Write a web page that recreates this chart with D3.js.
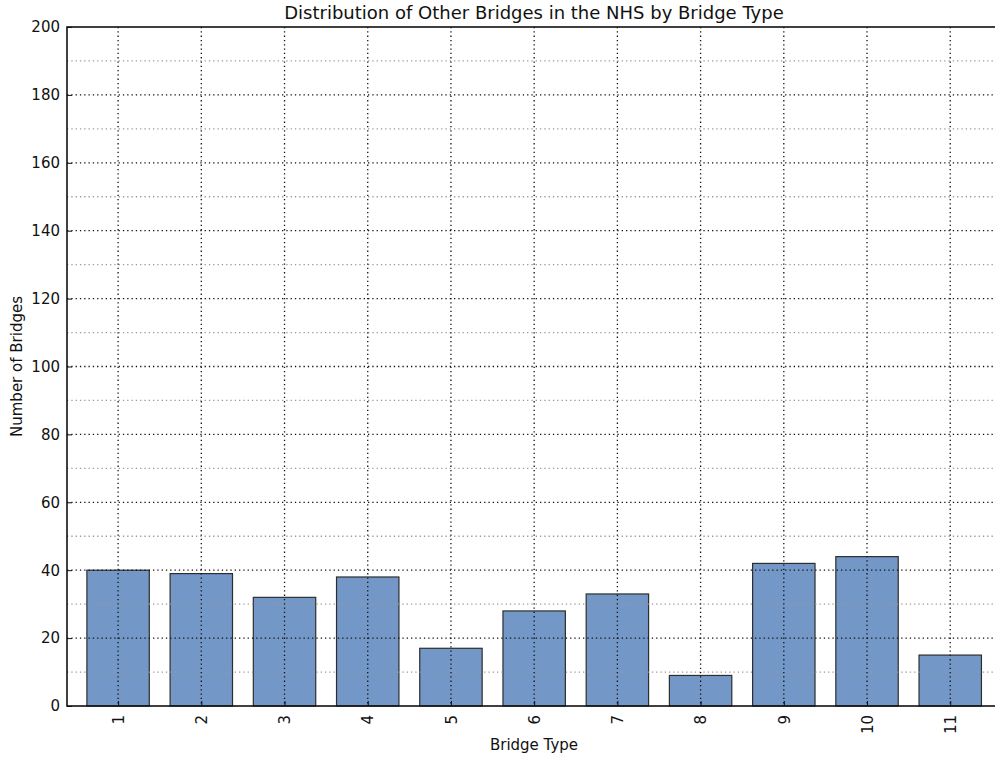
<!DOCTYPE html>
<html><head><meta charset="utf-8">
<script src="https://cdn.jsdelivr.net/npm/d3@7"></script>
<style>body{margin:0;background:#fff}svg{display:block;font-family:"DejaVu Sans",sans-serif}</style>
</head><body><svg id="c" width="995" height="757"></svg>
<script>
const categories = [1,2,3,4,5,6,7,8,9,10,11];
const values = [40,39,32,38,17,28,33,9,42,44,15];
const yMajorTicks = [0,20,40,60,80,100,120,140,160,180,200];
const yMinorTicks = [10,30,50,70,90,110,130,150,170,190];
const title = "Distribution of Other Bridges in the NHS by Bridge Type";
const xLabel = "Bridge Type";
const yLabel = "Number of Bridges";

const svg = d3.select("#c");
const L = 67, R = 1001, T = 27, B = 706;
const x = d3.scaleLinear().domain([0.386, 11.61]).range([L, R]);
const y = d3.scaleLinear().domain([0, 200]).range([B, T]);
const step = x(2) - x(1);
const bw = step * 0.75;

// bars
svg.append("g").selectAll("rect").data(values).join("rect")
  .attr("x", (d,i) => x(categories[i]) - bw/2)
  .attr("y", d => y(d))
  .attr("width", bw)
  .attr("height", d => y(0) - y(d))
  .attr("fill", "#7397c6")
  .attr("stroke", "#2e2e2e")
  .attr("stroke-width", 1.2);

// grid
const g = svg.append("g");
g.selectAll(".ymin").data(yMinorTicks).join("line")
  .attr("x1", L).attr("x2", R).attr("y1", d => y(d)).attr("y2", d => y(d))
  .attr("stroke", "#999").attr("stroke-width", 1.3).attr("stroke-dasharray", "1.3,3");
g.selectAll(".ymaj").data(yMajorTicks.slice(1, -1)).join("line")
  .attr("x1", L).attr("x2", R).attr("y1", d => y(d)).attr("y2", d => y(d))
  .attr("stroke", "#111").attr("stroke-width", 1.3).attr("stroke-dasharray", "1.3,3");
g.selectAll(".xmaj").data(categories).join("line")
  .attr("x1", d => x(d)).attr("x2", d => x(d)).attr("y1", T).attr("y2", B)
  .attr("stroke", "#111").attr("stroke-width", 1.3).attr("stroke-dasharray", "1.3,3");

// axes
const yAxis = svg.append("g").attr("transform", `translate(${L},0)`)
  .call(d3.axisLeft(y).tickValues(yMajorTicks).tickSize(-5).tickPadding(7).tickFormat(d3.format("d")));
yAxis.select(".domain").remove();
yAxis.selectAll("text").attr("font-size", 15).attr("fill", "#111").attr("font-family", "DejaVu Sans");
yAxis.selectAll("line").attr("stroke", "#111");

const xAxis = svg.append("g").attr("transform", `translate(0,${B})`)
  .call(d3.axisBottom(x).tickValues(categories).tickSize(-5).tickFormat(d3.format("d")));
xAxis.select(".domain").remove();
xAxis.selectAll("line").attr("stroke", "#111");
xAxis.selectAll("text")
  .attr("font-size", 15).attr("fill", "#111").attr("font-family", "DejaVu Sans")
  .attr("transform", "rotate(-90)")
  .attr("text-anchor", "end").attr("x", -9).attr("y", 0).attr("dy", "0.35em");

// frame
svg.append("rect").attr("x", L).attr("y", T).attr("width", R - L).attr("height", B - T)
  .attr("fill", "none").attr("stroke", "#111").attr("stroke-width", 1.6);

// labels
svg.append("text").attr("x", (L + R) / 2).attr("y", 19).attr("text-anchor", "middle")
  .attr("font-size", 18).attr("fill", "#111").text(title);
svg.append("text").attr("x", (L + R) / 2).attr("y", 750).attr("text-anchor", "middle")
  .attr("font-size", 15).attr("fill", "#111").text(xLabel);
svg.append("text").attr("transform", `translate(22,${(T + B) / 2}) rotate(-90)`)
  .attr("text-anchor", "middle").attr("font-size", 15).attr("fill", "#111").text(yLabel);
</script></body></html>
